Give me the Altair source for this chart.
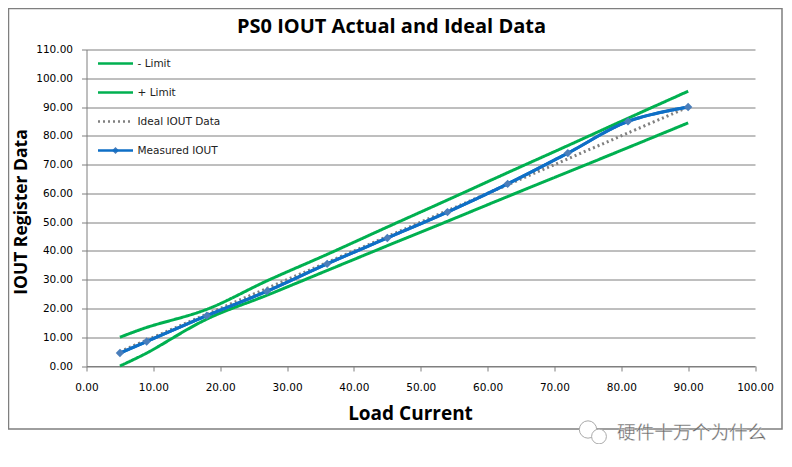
import altair as alt
import pandas as pd

load = [5, 9, 18, 27, 36, 45, 54, 63, 72, 81, 90]
minus_limit = [0, 4.5, 16.3, 24.6, 33.2, 41.8, 50.3, 58.9, 67.4, 75.9, 84.5]
plus_limit = [10, 13.4, 19.7, 29.6, 38.8, 48.3, 57.7, 67.2, 76.6, 86.1, 95.5]
ideal = [5, 9, 18, 27, 36, 45, 54, 63, 72, 81, 90]
measured = [4.5, 8.5, 17.5, 26, 35.5, 44.5, 53.5, 63.3, 74, 85, 90]
series_names = ["- Limit", "+ Limit", "Ideal IOUT Data", "Measured IOUT"]
series_values = [minus_limit, plus_limit, ideal, measured]
x_ticks = list(range(0, 101, 10))
y_ticks = list(range(0, 111, 10))
chart_title = "PS0 IOUT Actual and Ideal Data"

rows = []
for name, vals in zip(series_names, series_values):
    for x, y in zip(load, vals):
        rows.append({"load": x, "value": y, "series": name})
df = pd.DataFrame(rows)

GRID = "#7f7f7f"
TICK_FONT = "DejaVu Sans"
HEAD_FONT = "Open Sans"

x_enc = alt.X("load:Q", scale=alt.Scale(domain=[0, 100], nice=False),
              axis=alt.Axis(values=x_ticks, format=".2f", grid=False, title="Load Current",
                            titleFont=HEAD_FONT, titleFontSize=19, titleFontWeight="bold",
                            titleColor="#000000", titleX=323.5, titleY=47, titleBaseline="middle",
                            labelFont=TICK_FONT, labelFontSize=10.5, labelColor="#000000",
                            labelPadding=11, tickSize=5, tickColor=GRID, domainColor=GRID,
                            labelFlush=False, labelOverlap=False))
y_enc = alt.Y("value:Q", scale=alt.Scale(domain=[0, 110], nice=False),
              axis=alt.Axis(values=y_ticks, format=".2f", grid=True, gridColor=GRID, gridWidth=1,
                            title="IOUT Register Data",
                            titleFont=HEAD_FONT, titleFontSize=17.5, titleFontWeight="bold",
                            titleColor="#000000", titleX=-65.5, titleY=162, titleBaseline="middle",
                            labelFont=TICK_FONT, labelFontSize=10.5, labelColor="#000000",
                            labelPadding=9, tickSize=5, tickColor=GRID, domainColor=GRID,
                            labelOverlap=False))

legend = alt.Legend(title=None, orient="none", legendX=4, legendY=-11, symbolType="stroke",
                    symbolSize=1225, rowPadding=4, labelFont=TICK_FONT, labelFontSize=10.5,
                    labelColor="#222222", labelOffset=3, padding=6, symbolStrokeWidth=2.5,
                    labelLimit=200)
color = alt.Color("series:N", sort=series_names, legend=legend,
                  scale=alt.Scale(domain=series_names,
                                  range=["#00B050", "#00B050", "#808080", "#0F6FC6"]))
dash = alt.StrokeDash("series:N", sort=series_names, legend=legend,
                      scale=alt.Scale(domain=series_names,
                                      range=[[1, 0], [1, 0], [2, 3], [1, 0]]))

one = pd.DataFrame({"a": [0]})

frame = alt.Chart(one).mark_rect(
    filled=False, stroke=GRID, strokeWidth=1.5, clip=False
).encode(x=alt.value(-78), x2=alt.value(695.5), y=alt.value(-41), y2=alt.value(379.5))

title_text = alt.Chart(pd.DataFrame({"t": [chart_title]})).mark_text(
    font=HEAD_FONT, fontSize=20, fontWeight="bold", color="#000000",
    align="center", baseline="middle"
).encode(x=alt.value(305), y=alt.value(-22.5), text="t:N")

lines = alt.Chart(df).mark_line(interpolate="catmull-rom", strokeWidth=3).encode(
    x=x_enc, y=y_enc, color=color, strokeDash=dash, order=alt.Order("load:Q")
)
measured_top = alt.Chart(df[df.series == "Measured IOUT"]).mark_line(
    interpolate="catmull-rom", strokeWidth=3, color="#0F6FC6").encode(x=x_enc, y=y_enc)
points = alt.Chart(df[df.series == "Measured IOUT"]).mark_point(
    shape="diamond", filled=True, size=70, color="#4A7EBB", opacity=1).encode(x=x_enc, y=y_enc)

legend_marker = alt.Chart(one).mark_point(
    shape="diamond", filled=True, size=50, color="#4A7EBB", opacity=1
).encode(x=alt.value(29), y=alt.value(101))

wm_text = alt.Chart(pd.DataFrame({"t": ["硬件十万个为什么"]})).mark_text(
    font="Noto Sans CJK SC", fontSize=18.7, color="#6a6a6a", align="left", baseline="middle",
    stroke="#ffffff", strokeWidth=0.3, clip=False
).encode(x=alt.value(530.5), y=alt.value(383.5), text="t:N")
wm_big = alt.Chart(one).mark_point(
    shape="circle", filled=True, fill="#ffffff", stroke="#aaaaaa", strokeWidth=1, size=300, opacity=1
).encode(x=alt.value(501.5), y=alt.value(380))
wm_small = alt.Chart(one).mark_point(
    shape="circle", filled=True, fill="#ffffff", stroke="#aaaaaa", strokeWidth=1, size=220, opacity=1
).encode(x=alt.value(512.5), y=alt.value(387))

chart = alt.layer(frame, title_text, lines, measured_top, points, legend_marker, wm_big, wm_small, wm_text).properties(
    width=668.5, height=316.5,
    padding={"left": 78.5, "top": 41.5, "right": 28, "bottom": 78},
    autosize=alt.AutoSizeParams(type="none"),
    background="#ffffff",
).configure_view(stroke=None)

chart.save("out.html", embed_options={"renderer": "svg", "actions": False})
